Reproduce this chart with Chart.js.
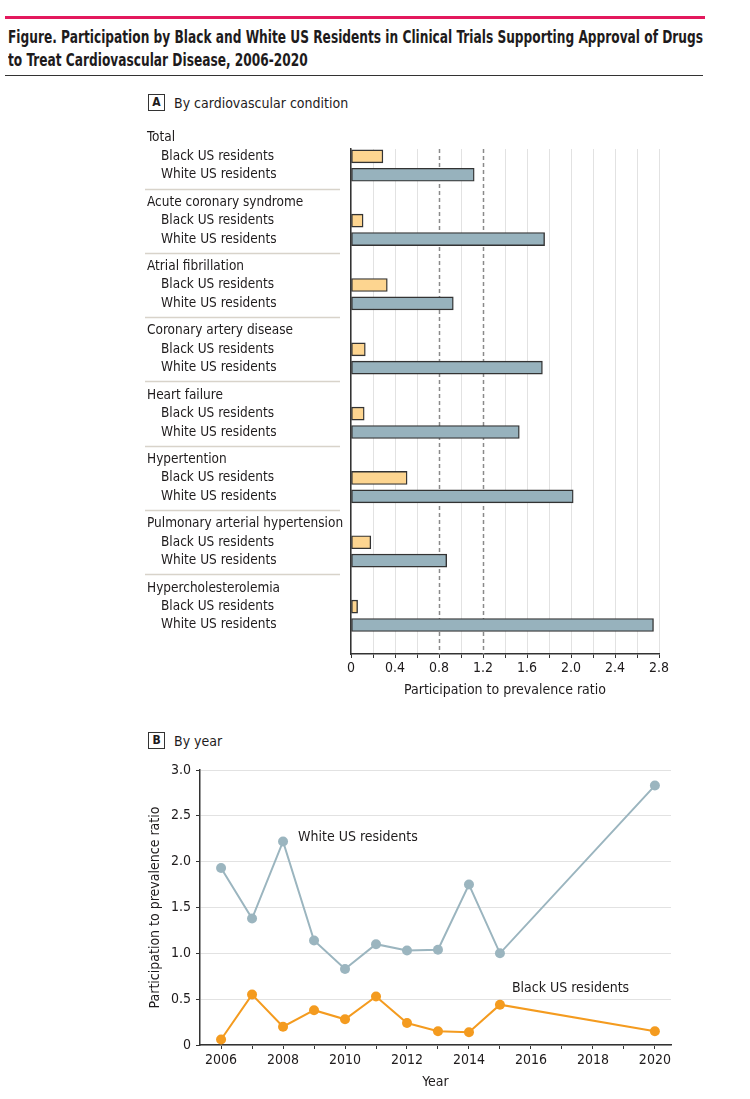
<!DOCTYPE html>
<html><head><meta charset="utf-8">
<script src="https://cdn.jsdelivr.net/npm/chart.js@4.4.0/dist/chart.umd.min.js"></script>
<style>
body{margin:0;background:#fff;width:750px;height:1099px;overflow:hidden;position:relative;font-family:"Liberation Sans Narrow","DejaVu Sans Condensed",sans-serif;color:#1e1b1c;}
#pink{position:absolute;left:5px;top:16px;width:700px;height:3px;background:#e3185d;}
.tl{position:absolute;left:8px;font-size:18px;font-weight:bold;white-space:nowrap;transform-origin:0 50%;line-height:22px;}
#rule{position:absolute;left:5px;top:75px;width:698px;height:1px;background:#333;}
.box{position:absolute;width:15px;height:15px;border:1px solid #333;font-size:12px;font-weight:bold;text-align:center;line-height:15px;}
.plab{position:absolute;font-size:14px;white-space:nowrap;line-height:18px;}
canvas{position:absolute;left:0;}
</style></head>
<body>
<div id="pink"></div>
<div class="tl" id="t1" style="top:26px">Figure. Participation by Black and White US Residents in Clinical Trials Supporting Approval of Drugs</div>
<div class="tl" id="t2" style="top:49px">to Treat Cardiovascular Disease, 2006-2020</div>
<div id="rule"></div>
<div class="box" style="left:148px;top:94px">A</div>
<div class="plab" style="left:174px;top:94px">By cardiovascular condition</div>
<div class="box" style="left:148px;top:732px">B</div>
<div class="plab" style="left:174px;top:732px">By year</div>
<canvas id="cA" width="750" height="710" style="top:0;width:750px;height:710px"></canvas>
<canvas id="cB" width="750" height="389" style="top:710px;width:750px;height:389px"></canvas>
<script>
// ---------- data ----------
const conditions = ['Total','Acute coronary syndrome','Atrial fibrillation','Coronary artery disease','Heart failure','Hypertention','Pulmonary arterial hypertension','Hypercholesterolemia'];
const seriesNames = ['Black US residents','White US residents'];
const blackByCondition = [0.29,0.11,0.33,0.13,0.12,0.51,0.18,0.06];
const whiteByCondition = [1.12,1.76,0.93,1.74,1.53,2.02,0.87,2.75];
const referenceRatios = [0.8,1.2];
const ratioTickLabelsA = [0,0.4,0.8,1.2,1.6,2.0,2.4,2.8];

const years = [2006,2007,2008,2009,2010,2011,2012,2013,2014,2015,2020];
const whiteByYear = [1.93,1.38,2.22,1.14,0.83,1.10,1.03,1.04,1.75,1.00,2.83];
const blackByYear = [0.06,0.55,0.20,0.38,0.28,0.53,0.24,0.15,0.14,0.44,0.15];
const yearTickLabels = [2006,2008,2010,2012,2014,2016,2018,2020];
const ratioTickLabelsB = [0,0.5,1.0,1.5,2.0,2.5,3.0];

// ---------- style ----------
const FONT = '"Liberation Sans Narrow","DejaVu Sans Condensed",sans-serif';
const TXT = '#1e1b1c';
Chart.defaults.font.family = FONT;
Chart.defaults.font.size = 14;
Chart.defaults.color = TXT;

// fit title width
(function(){
  const t1 = document.getElementById('t1'), t2 = document.getElementById('t2');
  const s = 695 / t1.getBoundingClientRect().width;
  t1.style.transform = 'scaleX(' + s + ')';
  t2.style.transform = 'scaleX(' + s + ')';
})();

const SLOT = 7;
const fmt = v => Math.abs(v) < 1e-9 ? '0' : v.toFixed(1);
const near = (a, b) => Math.abs(a - b) < 1e-6;

const labelPluginA = {
  id: 'labelsA',
  beforeDatasetsDraw(chart) {
    const {ctx, chartArea, scales: {x}} = chart;
    ctx.save();
    ctx.strokeStyle = '#8a8a8a';
    ctx.lineWidth = 1.5;
    ctx.setLineDash([4, 3]);
    referenceRatios.forEach(v => {
      const px = Math.round(x.getPixelForValue(v)) + 0.5;
      ctx.beginPath(); ctx.moveTo(px, chartArea.top); ctx.lineTo(px, chartArea.bottom); ctx.stroke();
    });
    ctx.restore();
  },
  afterDraw(chart) {
    const {ctx, scales: {y}} = chart;
    ctx.save();
    ctx.font = '13.5px ' + FONT;
    ctx.fillStyle = TXT;
    ctx.textBaseline = 'middle';
    ctx.textAlign = 'left';
    conditions.forEach((c, i) => {
      ctx.fillText(c, 147, y.getPixelForValue(i * SLOT));
      ctx.fillText(seriesNames[0], 161, y.getPixelForValue(i * SLOT + 2));
      ctx.fillText(seriesNames[1], 161, y.getPixelForValue(i * SLOT + 4));
      if (i < conditions.length - 1) {
        const py = Math.round(y.getPixelForValue(i * SLOT + 5.5)) + 0.5;
        ctx.strokeStyle = '#d8d3ca';
        ctx.lineWidth = 1.5;
        ctx.beginPath(); ctx.moveTo(145, py); ctx.lineTo(340, py); ctx.stroke();
      }
    });
    ctx.restore();
  }
};

new Chart(document.getElementById('cA'), {
  type: 'bar',
  data: {
    datasets: [
      {label: seriesNames[0], data: blackByCondition.map((v, i) => ({x: v, y: i * SLOT + 2})),
       backgroundColor: '#fdd590', borderColor: '#333333', borderWidth: 1.4, borderSkipped: false, barThickness: 13, grouped: false},
      {label: seriesNames[1], data: whiteByCondition.map((v, i) => ({x: v, y: i * SLOT + 4})),
       backgroundColor: '#97b2bd', borderColor: '#333333', borderWidth: 1.4, borderSkipped: false, barThickness: 13, grouped: false}
    ]
  },
  options: {
    indexAxis: 'y', responsive: false, animation: false, events: [],
    layout: {padding: {top: 149, right: 91, left: 0, bottom: 0}},
    plugins: {legend: {display: false}, tooltip: {enabled: false}},
    scales: {
      x: {
        type: 'linear', position: 'bottom', min: 0, max: 2.8,
        afterBuildTicks: s => { const t = []; for (let k = 0; k <= 14; k++) t.push({value: +(k * 0.2).toFixed(1)}); s.ticks = t; },
        ticks: {autoSkip: false, maxRotation: 0, padding: 2, color: TXT,
                callback: v => ratioTickLabelsA.some(t => near(t, v)) ? fmt(v) : ''},
        grid: {color: c => (c.tick && referenceRatios.some(r => near(r, c.tick.value))) ? 'rgba(0,0,0,0)' : '#e2e2e2',
               lineWidth: 1, tickColor: '#333', tickLength: 4},
        border: {color: '#333', width: 1.5},
        title: {display: true, text: 'Participation to prevalence ratio', color: TXT, padding: {top: 0, bottom: 11.6}},
        afterFit: s => { s.height = 56; }
      },
      y: {
        type: 'linear', position: 'left', min: 1.2, max: 56.16, reverse: true, offset: false,
        ticks: {display: false}, grid: {display: false, offset: false},
        border: {color: '#333', width: 1.5},
        afterFit: s => { s.width = 351; }
      }
    }
  },
  plugins: [labelPluginA]
});

const WHITE_C = '#9bb5bf', BLACK_C = '#f49b1f';
const labelPluginB = {
  id: 'labelsB',
  afterDatasetsDraw(chart) {
    const {ctx, scales: {x, y}} = chart;
    ctx.save();
    ctx.font = '14px ' + FONT;
    ctx.fillStyle = TXT;
    ctx.textBaseline = 'middle';
    ctx.textAlign = 'left';
    const iw = years.indexOf(2008), ib = years.indexOf(2015);
    ctx.fillText(seriesNames[1], x.getPixelForValue(years[iw]) + 15, y.getPixelForValue(whiteByYear[iw]) - 4);
    ctx.fillText(seriesNames[0], x.getPixelForValue(years[ib]) + 12, y.getPixelForValue(blackByYear[ib]) - 16);
    ctx.restore();
  }
};

new Chart(document.getElementById('cB'), {
  type: 'line',
  data: {
    datasets: [
      {label: seriesNames[1], data: years.map((yr, i) => ({x: yr, y: whiteByYear[i]})),
       borderColor: WHITE_C, backgroundColor: WHITE_C, pointBackgroundColor: WHITE_C, pointRadius: 5, pointBorderWidth: 0, borderWidth: 2, clip: false},
      {label: seriesNames[0], data: years.map((yr, i) => ({x: yr, y: blackByYear[i]})),
       borderColor: BLACK_C, backgroundColor: BLACK_C, pointBackgroundColor: BLACK_C, pointRadius: 5, pointBorderWidth: 0, borderWidth: 2, clip: false}
    ]
  },
  options: {
    responsive: false, animation: false, events: [],
    layout: {padding: {top: 60, right: 79, left: 140, bottom: 0}},
    plugins: {legend: {display: false}, tooltip: {enabled: false}},
    scales: {
      x: {
        type: 'linear', min: 2005.32, max: 2020.52,
        afterBuildTicks: s => { const t = []; for (let yr = 2006; yr <= 2020; yr++) t.push({value: yr}); s.ticks = t; },
        ticks: {autoSkip: false, maxRotation: 0, padding: 3, color: TXT,
                callback: v => yearTickLabels.includes(v) ? String(v) : ''},
        grid: {drawOnChartArea: false, tickColor: '#333', tickLength: 4},
        border: {color: '#333', width: 1.5},
        title: {display: true, text: 'Year', color: TXT, padding: {top: 0, bottom: 8.6}},
        afterFit: s => { s.height = 54; }
      },
      y: {
        type: 'linear', min: 0, max: 3,
        afterBuildTicks: s => { s.ticks = ratioTickLabelsB.map(v => ({value: v})); },
        ticks: {padding: 5, color: TXT, callback: v => fmt(v)},
        grid: {color: '#e2e2e2', tickColor: '#333', tickLength: 4},
        border: {color: '#333', width: 1.5},
        title: {display: true, text: 'Participation to prevalence ratio', color: TXT, padding: {top: 6.6, bottom: 0}},
        afterFit: s => { s.width = 60; }
      }
    }
  },
  plugins: [labelPluginB]
});
</script>
</body></html>
